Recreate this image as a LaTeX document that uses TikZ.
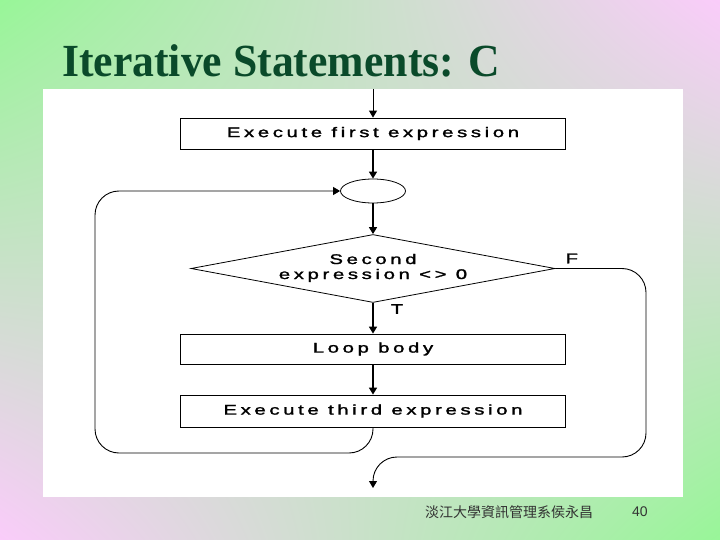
\documentclass[tikz,border=0pt]{standalone}
\usepackage{fontspec}
\setmainfont{Liberation Serif}
\newfontfamily\titlefont{Liberation Serif}[FakeStretch=0.95]
\newfontfamily\chartfont{Liberation Sans}[LetterSpace=18,FakeBold=1.5]
\newfontfamily\footfont{Liberation Sans}
\newfontfamily\cjkfont{Noto Sans CJK TC}
\newcommand\widetext[1]{\scalebox{1.45}[1]{#1}}
\usetikzlibrary{arrows.meta,positioning,shapes.geometric,shadings}
\definecolor{slidegreen}{RGB}{152,246,152}
\definecolor{slidepink}{RGB}{250,204,250}
\definecolor{titlegreen}{RGB}{10,74,42}

\begin{document}
\begin{tikzpicture}[
  x=1pt, y=-1pt, >={Triangle[width=8pt,length=7pt]},
  every node/.style={font=\chartfont\fontsize{14}{15}\selectfont},
  stepbox/.style={draw, thick, minimum width=385pt, minimum height=31pt, inner sep=0pt},
  flow/.style={->, line width=1.6pt},
  back/.style={->, line width=0.9pt, rounded corners=24pt},
  lbl/.style={inner sep=0pt},
]
\useasboundingbox (0,0) rectangle (720,540);
% slide background
\shade[upper left=slidegreen, upper right=slidepink,
  lower left=slidepink, lower right=slidegreen] (0,0) rectangle (720,540);
\fill[white] (43,89) rectangle (683,497);

\node[font=\titlefont\bfseries\fontsize{46}{50}\selectfont, text=titlegreen,
  anchor=base west, inner sep=0pt] (title) at (62,77) {Iterative Statements: C};

% flowchart
\node[stepbox] (first) at (373,133.5) {\widetext{Execute first expression}};
\node[draw, thick, ellipse, minimum width=65pt, minimum height=24pt,
  inner sep=0pt] (join) at (373,191) {};
\node[draw, thick, diamond, minimum width=364pt, minimum height=68pt,
  inner sep=0pt] (test) at (373,268.5)
  {\makebox[0pt]{\widetext{\begin{tabular}{@{}c@{}}Second\\expression <> 0\end{tabular}}}};
\node[stepbox, minimum height=30pt] (body) at (373,349) {\widetext{Loop body}};
\node[stepbox, minimum height=32pt] (third) at (373,411) {\widetext{Execute third expression}};

\coordinate (entry) at (373,89);
\coordinate (exit) at (373,488);
\coordinate (lowleft) at (95,453);
\coordinate (lowright) at (646,457);

\draw[->, line width=0.9pt] (entry) -- (first);
\draw[flow] (first) -- (join);
\draw[flow] (join) -- (test);
\draw[flow] (test) -- node[lbl, right=17pt, pos=0.2] {\widetext{T}} (body);
\draw[flow] (body) -- (third);
\draw[back] (third.south) |- (lowleft) |- (join.west);
\draw[back] (test.east) -| (lowright) -| (exit);
\node[lbl, above right=5pt and 10pt of test.east] (false) {\widetext{F}};

% footer
\node[font=\cjkfont\fontsize{14}{16}\selectfont, text=black!80, anchor=west,
  inner sep=0pt] (credit) at (425,512) {淡江大學資訊管理系侯永昌};
\node[font=\footfont\fontsize{14}{16}\selectfont, text=black!80, anchor=west,
  inner sep=0pt] (page) at (632,512) {40};
\end{tikzpicture}
\end{document}
